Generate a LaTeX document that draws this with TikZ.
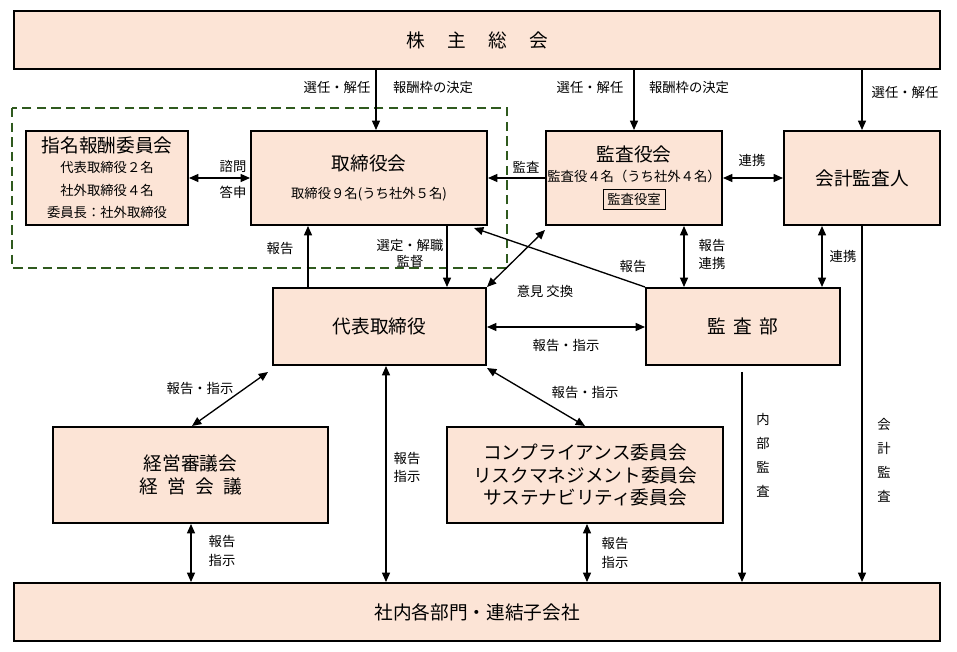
\documentclass[tikz,border=0pt]{standalone}
\usepackage{fontspec}
\newfontfamily\cjk{Noto Sans CJK JP}
\usetikzlibrary{arrows.meta}
\definecolor{peach}{HTML}{FCE4D6}
\definecolor{dgreen}{HTML}{2F5A1E}
\newcommand{\smf}{\fontsize{10}{12.5}\selectfont}
\newcommand{\bx}[6]{\node[box,minimum width=#4*0.75pt-1.3pt,minimum height=#5*0.75pt-1.3pt,inner sep=0pt] (#1) at ({(#2+#4/2)},{(#3+#5/2)}) {#6};}
\begin{document}
\begin{tikzpicture}[x=0.75pt,y=-0.75pt,
  box/.style={draw=black,line width=1.3pt,fill=peach,align=center,font=\cjk\fontsize{14}{17}\selectfont},
  lab/.style={font=\cjk\fontsize{10}{12}\selectfont,align=center,inner sep=1pt},
  ar/.style={line width=1pt,-{Triangle[length=7pt,width=6pt]}},
  dar/.style={line width=1pt,{Triangle[length=7pt,width=6pt]}-{Triangle[length=7pt,width=6pt]}}]
\useasboundingbox (0,0) rectangle (957,652);
\draw[dgreen,line width=2.2pt,dash pattern=on 7pt off 4pt] (12,108) rectangle (507,268);
\bx{sh}{13}{10}{928}{60}{株\hspace{1.2em}主\hspace{1.2em}総\hspace{1.2em}会}
\bx{nr}{25}{130}{164}{96}{指名報酬委員会\\[-2pt]\smf 代表取締役２名\\\smf 社外取締役４名\\\smf 委員長：社外取締役}
\bx{bd}{250}{130}{238}{96}{取締役会\\[4pt]\smf 取締役９名(うち社外５名)}
\bx{ka}{545}{130}{178}{96}{監査役会\\[-2pt]\smf 監査役４名（うち社外４名）\\[0pt]\smf\fbox{\rule{0pt}{8pt}監査役室}}
\bx{ac}{783}{130}{158}{96}{会計監査人}
\bx{ceo}{272}{287}{215}{79}{代表取締役}
\bx{ia}{645}{287}{196}{79}{監\hspace{0.4em}査\hspace{0.4em}部}
\bx{mg}{52}{426}{277}{98}{経営審議会\\経\hspace{0.5em}営\hspace{0.5em}会\hspace{0.5em}議}
\bx{cp}{446}{426}{278}{98}{コンプライアンス委員会\\リスクマネジメント委員会\\サステナビリティ委員会}
\bx{dp}{13}{582}{928}{60}{社内各部門・連結子会社}
% shareholders
\draw[ar] (376,70) -- (376,130);
\node[lab] at (337,87) {選任・解任};
\node[lab] at (433,87) {報酬枠の決定};
\draw[ar] (634,70) -- (634,130);
\node[lab] at (590,87) {選任・解任};
\node[lab] at (689,87) {報酬枠の決定};
\draw[ar] (862,70) -- (862,130);
\node[lab] at (905,92) {選任・解任};
% board row
\draw[dar] (189,178) -- (250,178);
\node[lab] at (233,166) {諮問};
\node[lab] at (233,192) {答申};
\draw[ar] (545,178) -- (488,178);
\node[lab] at (526,167) {監査};
\draw[dar] (723,178) -- (783,178);
\node[lab] at (752,160) {連携};
\draw[ar] (308,287) -- (308,226);
\node[lab] at (280,248) {報告};
\draw[ar] (447,226) -- (447,287);
\node[lab] at (410,245) {選定・解職};
\node[lab] at (410,261) {監督};
\draw[dar] (545,230) -- (487,287);
\node[lab] at (545,291) {意見 交換};
\draw[ar] (645,287) -- (474,228);
\node[lab] at (633,266) {報告};
\draw[dar] (684,226) -- (684,287);
\node[lab] at (712,245) {報告};
\node[lab] at (712,263) {連携};
\draw[dar] (822,226) -- (822,287);
\node[lab] at (843,256) {連携};
\draw[dar] (487,327) -- (645,327);
\node[lab] at (566,345) {報告・指示};
% lower
\draw[dar] (268,372) -- (192,426);
\node[lab] at (200,388) {報告・指示};
\draw[dar] (386,366) -- (386,582);
\node[lab] at (407,458) {報告};
\node[lab] at (407,476) {指示};
\draw[dar] (487,368) -- (585,426);
\node[lab] at (585,392) {報告・指示};
\draw[dar] (191,524) -- (191,582);
\node[lab] at (222,541) {報告};
\node[lab] at (222,560) {指示};
\draw[dar] (587,524) -- (587,582);
\node[lab] at (615,543) {報告};
\node[lab] at (615,562) {指示};
\draw[ar] (742,372) -- (742,582);
\node[lab] at (763,455) {内\\[6pt]部\\[6pt]監\\[6pt]査};
\draw[ar] (862,226) -- (862,582);
\node[lab] at (884,460) {会\\[6pt]計\\[6pt]監\\[6pt]査};
\end{tikzpicture}
\end{document}
